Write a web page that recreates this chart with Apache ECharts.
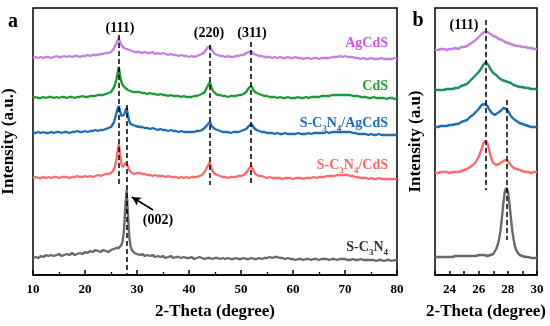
<!DOCTYPE html>
<html><head><meta charset="utf-8">
<script src="https://cdn.jsdelivr.net/npm/echarts@6/dist/echarts.min.js"></script>
<style>html,body{margin:0;padding:0;background:#fff}#c{width:550px;height:326px}</style>
</head><body><div id="c"></div>
<script>
// ---------- data ----------
const seriesNames = ['AgCdS','CdS','S-C3N4/AgCdS','S-C3N4/CdS','S-C3N4'];
// vertical stacking offsets (a.u.) used in the stacked plot
const offsetsA = [217,177,142,97,17];
const offsetsB = [225,185,148,102,18];

// 2-theta grid for panel a: 10-24.5 step .5, 25-29.75 step .25, 30-80 step .5
const thetaA = [];
for (let i=0;i<30;i++) thetaA.push(10+i*0.5);
for (let i=0;i<20;i++) thetaA.push(25+i*0.25);
for (let i=0;i<=100;i++) thetaA.push(30+i*0.5);
// 2-theta grid for panel b: 23-30 step .1
const thetaB = [];
for (let i=0;i<=70;i++) thetaB.push(Math.round((23+i*0.1)*10)/10);

const agcdsA = [0,1,0,1,0,1,1,0,1,2,1,1,2,1,2,1,2,2,1,2,2,3,2,3,3,3,4,4,5,5,
 6,7,9,11,14,17,20,16,13,11,10,9,9,8,8,7,7,7,6,7,
 6,6,5,6,5,5,6,4,5,4, 5,4,3,4,3,3,2,3,2,2, 1,2,1,2,3,4,6,10,12,7, 4,3,2,2,1,2,1,1,2,2,
 3,3,5,6,6,4,3,2,2,1, 1,1,0,1,0,1,0,0,1,0, 0,1,0,0,-1,0,0,-1,0,0, -1,0,0,0,0,1,1,1,2,1,
 2,1,1,1,0,0,-1,0,-1,-1, 0,-1,-1,-1,0,-1,-1,-1,-1,0, -1];
const cdsA = [0,1,0,0,1,0,1,1,0,1,0,1,1,0,1,1,0,1,1,2,1,1,2,2,2,3,3,3,4,5,
 6,8,10,13,18,24,31,22,16,13,11,10,9,8,8,7,7,6,6,6,
 5,6,5,5,4,5,4,4,3,4, 3,3,2,3,2,2,2,1,2,1, 1,1,2,2,3,4,6,11,16,8, 5,3,3,2,2,1,2,2,2,3,
 3,4,6,10,12,7,5,4,3,2, 2,1,1,1,0,1,0,0,1,0, 0,0,1,0,0,1,0,1,1,1, 1,2,2,2,2,3,3,3,3,3,
 3,3,3,2,2,2,1,1,1,0, 0,1,0,0,0,0,-1,0,0,-1, 0];
const scnAgcdsA = [0,0,1,0,1,0,0,1,0,1,1,0,1,1,0,1,1,2,1,1,2,1,2,2,3,2,3,3,4,5,
 6,8,10,14,19,24,27,22,17,16,18,22,25,18,12,9,8,8,7,7,
 7,6,6,5,5,4,5,4,3,4, 3,3,2,3,2,2,1,2,1,1, 1,1,1,2,2,3,5,8,11,6, 4,3,2,1,1,1,0,1,1,1,
 2,3,4,7,9,5,3,2,1,1, 0,0,0,-1,0,-1,-1,0,-1,-1, -1,-1,0,-1,-1,-1,0,-1,0,0, 0,0,0,1,0,1,1,1,1,1,
 1,1,1,0,0,-1,-1,-1,-1,-2, -1,-2,-2,-1,-2,-2,-2,-2,-2,-2, -2];
const scnCdsA = [0,1,0,0,1,0,1,0,1,1,0,1,1,1,0,1,1,2,1,1,2,1,2,1,2,3,2,3,4,4,
 5,6,8,11,17,26,34,24,14,11,12,15,16,12,8,6,5,5,4,5,
 5,5,4,4,3,3,2,3,2,2, 2,1,2,1,1,1,0,1,0,1, 0,1,1,1,2,3,6,11,16,7, 4,3,2,1,1,0,1,1,1,2,
 2,3,5,9,12,6,3,2,2,1, 0,1,0,0,0,0,-1,0,0,0, -1,0,0,0,-1,0,0,0,1,0, 1,1,1,2,2,2,2,3,3,3,
 3,3,2,2,1,1,0,0,0,-1, 0,-1,-1,0,-1,-1,-1,-1,-1,-1, -1];
const scnA = [0,1,0,2,1,3,2,3,2,3,4,2,3,4,3,5,3,4,5,4,6,5,7,6,8,7,6,8,7,6,
 8,8,9,9,10,9,10,11,13,17,28,50,68,45,22,12,8,6,5,4,
 4,3,4,2,3,2,3,1,2,1, 2,0,1,2,0,1,1,0,1,0, 0,1,-1,0,1,0,-1,0,0,-1, 0,0,-1,0,-1,0,-1,-1,0,-1,
 -1,0,-1,-1,0,-1,-1,0,-1,0, 0,1,0,1,1,0,0,-1,0,-1, -1,-2,-1,-1,-2,-1,-1,-2,-1,-1, -2,-1,-1,-1,-2,-1,-1,-2,-1,-1,
 -1,-2,-2,-1,-2,-2,-1,-2,-2,-2, -2,-2,-3,-2,-2,-3,-2,-2,-3,-2, -3];

const agcdsB = [0,1,0,0,1,0,1,1,0,1, 1,2,1,1,2,2,1,2,3,3, 3,4,4,5,6,7,8,9,10,12,
 13,15,16,17,18,19,18,17,16,15, 14,14,13,12,11,10,10,9,8,8, 7,6,6,5,5,4,4,3,4,3, 3,2,3,2,2,1,2,1,1,0, 1];
const cdsB = [0,-1,0,1,0,1,0,1,1,0, 1,2,1,2,2,3,2,3,4,4, 5,5,6,8,9,10,12,13,15,16,
 18,20,22,25,27,28,27,24,21,19, 17,16,15,13,12,11,10,10,9,8, 8,7,7,6,5,5,4,4,3,4, 3,3,2,3,2,2,1,2,1,1, 1];
const scnAgcdsB = [0,1,0,1,1,0,1,2,1,2, 2,3,2,3,3,4,3,4,5,5, 6,6,7,8,10,11,12,13,15,16,
 18,20,22,24,23,23,21,18,16,14, 13,12,13,14,15,16,17,19,19,18, 16,14,11,9,8,7,6,5,4,4, 3,3,2,2,1,1,0,1,0,-1, 0];
const scnCdsB = [0,1,0,0,1,0,1,0,1,1, 0,1,1,2,1,2,1,2,2,3, 3,4,4,5,6,7,8,9,11,13,
 16,20,24,29,32,33,30,24,18,13, 10,9,8,9,9,10,11,12,13,13, 12,10,8,6,5,5,4,3,3,2, 2,2,1,2,1,1,0,1,1,0, 1];
const scnB = [0,1,0,1,0,-1,0,1,0,1, 0,1,0,0,1,0,1,0,1,0, 1,0,1,2,1,0,1,2,1,1,
 2,1,2,1,2,2,1,2,2,3, 3,5,8,12,18,27,40,55,66,69, 66,55,40,27,17,10,6,4,2,1, 1,0,0,-1,0,-1,-1,0,-1,-2, -1];

const profilesA = [agcdsA, cdsA, scnAgcdsA, scnCdsA, scnA];
const profilesB = [agcdsB, cdsB, scnAgcdsB, scnCdsB, scnB];

// peak reference lines: [2theta, top, bottom]
const refLinesA = [[26.5,240,90],[28.0,170,0],[43.9,230,90],[51.9,233,90]];
const refLinesB = [[26.5,255,85],[27.9,175,35]];
const arrowA = [[33.1,65],[29.0,78]];

const xTicksA = [10,20,30,40,50,60,70,80];
const xTicksB = [24,26,28,30];

// ---------- styles ----------
const FONT = "'Liberation Serif','Times New Roman',serif";
const lineColorsA = ['#c57fe3','#1c9a35','#1f6db3','#ff6b6b','#6a6a6a'];
const lineColorsB = ['#c57fe3','#1b8f5c','#1f6db3','#ff6b6b','#6a6a6a'];
const labelColors = ['#cc55ee','#22a033','#1f6db8','#ff6666','#333333'];

const chart = echarts.init(document.getElementById('c'), null, {renderer:'canvas'});

function xAxisCfg(idx, min, max, interval, labels, minor, tickLen){
  return {
    gridIndex: idx, type:'value', min:min, max:max, interval:interval,
    axisLine:{show:true, onZero:false, lineStyle:{color:'#000', width:1.5}},
    axisTick:{show:true, inside:true, length:tickLen, lineStyle:{color:'#000', width:1.5}},
    minorTick:{show:minor, splitNumber:2, length:3, lineStyle:{color:'#000', width:1.3}},
    splitLine:{show:false},
    axisLabel:{interval:0, margin:8, color:'#000', fontFamily:FONT, fontWeight:'bold', fontSize:13,
      formatter: v => labels.indexOf(v) >= 0 ? String(v) : ''},
    name:'2-Theta (degree)', nameLocation:'middle', nameGap:28,
    nameTextStyle:{color:'#000', fontFamily:FONT, fontWeight:'bold', fontSize:17}
  };
}
function yAxisCfg(idx, name, gap){
  return {
    gridIndex: idx, type:'value', min:0, max:267,
    axisLine:{show:false}, axisTick:{show:false}, axisLabel:{show:false}, splitLine:{show:false},
    name:name, nameLocation:'middle', nameGap:gap, nameRotate:90,
    nameTextStyle:{color:'#000', fontFamily:FONT, fontWeight:'bold', fontSize:17}
  };
}

const series = [];
profilesA.forEach((arr,k)=>{
  series.push({
    type:'line', xAxisIndex:0, yAxisIndex:0, name:seriesNames[k], showSymbol:false, symbol:'none',
    animation:false, z: k===4 ? 3 : 2,
    lineStyle:{color:lineColorsA[k], width:2.4}, itemStyle:{color:lineColorsA[k]},
    data: thetaA.map((x,i)=>[x, arr[i]+offsetsA[k]]),
    markLine: k===4 ? {
      silent:true, animation:false, symbol:['none','none'], label:{show:false},
      lineStyle:{color:'#000', type:[5,3], width:1.5},
      data: refLinesA.map(r=>[{coord:[r[0],r[1]]},{coord:[r[0],r[2]]}]).concat([[
        {coord:arrowA[0], symbol:'none', lineStyle:{color:'#000', type:'solid', width:1.5}},
        {coord:arrowA[1], symbol:'arrow', symbolSize:[7,9]}
      ]])
    } : undefined
  });
});
profilesB.forEach((arr,k)=>{
  series.push({
    type:'line', xAxisIndex:1, yAxisIndex:1, name:seriesNames[k]+' b', showSymbol:false, symbol:'none',
    animation:false, z: k===4 ? 3 : 2,
    lineStyle:{color:lineColorsB[k], width:2.4}, itemStyle:{color:lineColorsB[k]},
    data: thetaB.map((x,i)=>[x, arr[i]+offsetsB[k]]),
    markLine: k===4 ? {
      silent:true, animation:false, symbol:['none','none'], label:{show:false},
      lineStyle:{color:'#000', type:[5,3], width:1.5},
      data: refLinesB.map(r=>[{coord:[r[0],r[1]]},{coord:[r[0],r[2]]}])
    } : undefined
  });
});

function txt(x,y,text,size,color,align){
  return {type:'text', x:x, y:y, z:100, silent:true,
    style:{text:text, fill:color||'#000', fontFamily:FONT, fontWeight:'bold', fontSize:size,
      align:align||'center', verticalAlign:'middle', textAlign:align||'center', textVerticalAlign:'middle'}};
}
function subTxt(x,y,parts,color){
  return {type:'text', x:x, y:y, z:100, silent:true,
    style:{text:parts, fill:color, fontFamily:FONT, fontWeight:'bold', fontSize:14,
      align:'right', verticalAlign:'middle', textAlign:'right', textVerticalAlign:'middle',
      rich:{
        n:{fontSize:14, fontWeight:'bold', fontFamily:FONT, fill:color, lineHeight:20, verticalAlign:'middle'},
        s:{fontSize:9, fontWeight:'bold', fontFamily:FONT, fill:color, lineHeight:10, verticalAlign:'bottom'}
      }}};
}

const graphics = [
  txt(13,22,'a',20,'#000'),
  txt(418,21,'b',20,'#000'),
  txt(120,28,'(111)',14,'#000'),
  txt(209,33,'(220)',14,'#000'),
  txt(252,33,'(311)',14,'#000'),
  txt(464,25,'(111)',14,'#000'),
  txt(158,220,'(002)',14,'#000'),
  subTxt(388,43,'{n|AgCdS}',labelColors[0]),
  subTxt(388,86,'{n|CdS}',labelColors[1]),
  subTxt(388,123,'{n|S-C}{s|3}{n|N}{s|4}{n|/AgCdS}',labelColors[2]),
  subTxt(388,165,'{n|S-C}{s|3}{n|N}{s|4}{n|/CdS}',labelColors[3]),
  subTxt(388,247,'{n|S-C}{s|3}{n|N}{s|4}',labelColors[4])
];

chart.setOption({
  animation:false,
  backgroundColor:'#fff',
  grid:[
    {left:33, top:8, width:364, height:267, outerBoundsMode:'none', containLabel:false, show:true, borderColor:'#000', borderWidth:1.5, backgroundColor:'transparent'},
    {left:435, top:8, width:102, height:267, outerBoundsMode:'none', containLabel:false, show:true, borderColor:'#000', borderWidth:1.5, backgroundColor:'transparent'}
  ],
  xAxis:[ xAxisCfg(0,10,80,10,xTicksA,true,5), xAxisCfg(1,23,30,1,xTicksB,false,4) ],
  yAxis:[ yAxisCfg(0,'Intensity (a.u.)',16), yAxisCfg(1,'Intensity (a.u)',11) ],
  series: series,
  graphic: graphics
});
</script></body></html>
